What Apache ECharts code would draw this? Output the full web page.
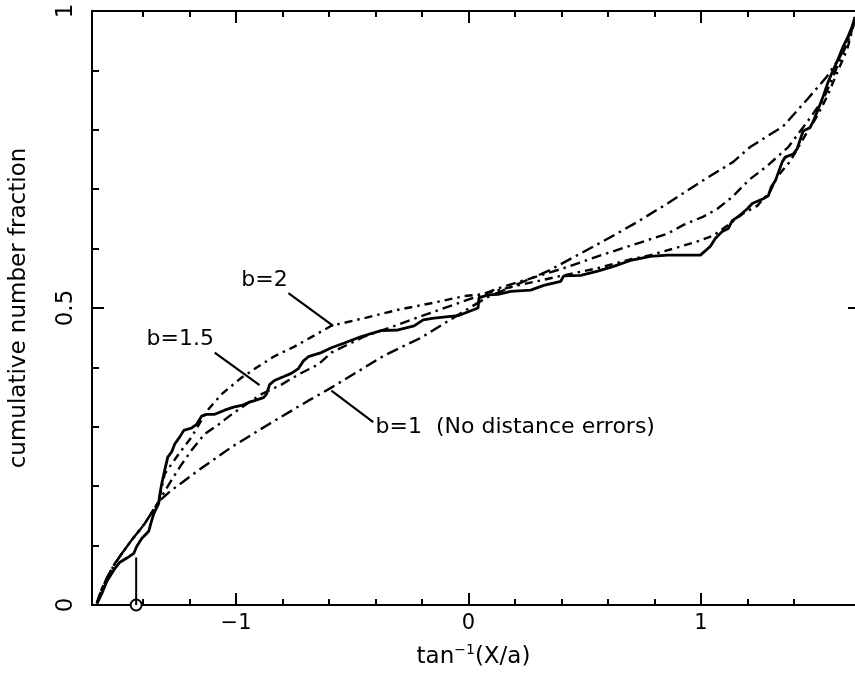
<!DOCTYPE html>
<html>
<head>
<meta charset="utf-8">
<script src="https://cdn.jsdelivr.net/npm/echarts@6/dist/echarts.min.js"></script>
<style>
  html, body { margin: 0; padding: 0; background: #fff; }
  #chart { width: 855px; height: 674px; }
</style>
</head>
<body>
<div id="chart"></div>
<script>
// observed cumulative number fraction (solid curve), [tan^-1(X/a), fraction]
const observed = [
  [-1.599, 0.002], [-1.577, 0.020], [-1.556, 0.040], [-1.526, 0.059], [-1.500, 0.072],
  [-1.470, 0.079], [-1.440, 0.087], [-1.427, 0.099], [-1.406, 0.112], [-1.376, 0.124],
  [-1.367, 0.137], [-1.354, 0.154], [-1.333, 0.171], [-1.328, 0.187], [-1.320, 0.204],
  [-1.307, 0.227], [-1.294, 0.249], [-1.277, 0.258], [-1.264, 0.271], [-1.242, 0.283],
  [-1.225, 0.294], [-1.191, 0.298], [-1.170, 0.304], [-1.148, 0.318], [-1.127, 0.321],
  [-1.092, 0.321], [-1.049, 0.328], [-1.011, 0.333], [-0.976, 0.336], [-0.946, 0.341],
  [-0.921, 0.344], [-0.882, 0.349], [-0.869, 0.355], [-0.856, 0.371], [-0.835, 0.378],
  [-0.792, 0.385], [-0.762, 0.390], [-0.732, 0.398], [-0.710, 0.411], [-0.689, 0.418],
  [-0.633, 0.425], [-0.590, 0.433], [-0.534, 0.441], [-0.461, 0.452], [-0.376, 0.462],
  [-0.303, 0.463], [-0.234, 0.470], [-0.195, 0.480], [-0.148, 0.483], [-0.045, 0.487],
  [0.041, 0.500], [0.045, 0.517], [0.084, 0.522], [0.127, 0.523], [0.182, 0.528],
  [0.268, 0.530], [0.324, 0.538], [0.397, 0.545], [0.410, 0.554], [0.483, 0.555],
  [0.556, 0.562], [0.624, 0.570], [0.697, 0.580], [0.783, 0.587], [0.856, 0.589],
  [0.998, 0.589], [1.041, 0.604], [1.062, 0.617], [1.092, 0.629], [1.118, 0.634],
  [1.135, 0.647], [1.161, 0.654], [1.200, 0.667], [1.221, 0.676], [1.268, 0.684],
  [1.290, 0.689], [1.303, 0.704], [1.320, 0.714], [1.350, 0.746], [1.363, 0.754],
  [1.397, 0.759], [1.414, 0.768], [1.440, 0.798], [1.470, 0.804], [1.483, 0.814],
  [1.504, 0.834], [1.526, 0.856], [1.547, 0.880], [1.564, 0.896], [1.586, 0.915],
  [1.612, 0.940], [1.633, 0.957], [1.650, 0.973], [1.663, 0.990]
];

// the three model curves share this part near the left edge
const modelStart = [
  [-1.599, 0.003], [-1.577, 0.028], [-1.547, 0.052], [-1.521, 0.070],
  [-1.491, 0.087], [-1.448, 0.110], [-1.393, 0.137], [-1.333, 0.174]
];

// b=1 (no distance errors)
const modelB1 = modelStart.concat([
  [-1.285, 0.191], [-1.161, 0.227], [-1.019, 0.266], [-0.861, 0.304], [-0.689, 0.344],
  [-0.590, 0.366], [-0.363, 0.420], [-0.204, 0.450], [-0.088, 0.478], [0.075, 0.517],
  [0.341, 0.562], [0.483, 0.592], [0.624, 0.622], [0.727, 0.645], [0.856, 0.676],
  [0.998, 0.712], [1.139, 0.746], [1.212, 0.771], [1.354, 0.806], [1.457, 0.851],
  [1.543, 0.890], [1.599, 0.923], [1.642, 0.963], [1.663, 0.988]
]);

// b=1.5
const modelB15 = modelStart.concat([
  [-1.277, 0.211], [-1.234, 0.237], [-1.191, 0.261], [-1.135, 0.288], [-1.075, 0.304],
  [-1.019, 0.321], [-0.964, 0.336], [-0.891, 0.355], [-0.805, 0.371], [-0.732, 0.388],
  [-0.646, 0.405], [-0.590, 0.425], [-0.448, 0.452], [-0.303, 0.472], [-0.191, 0.488],
  [-0.045, 0.508], [0.054, 0.522], [0.127, 0.533], [0.268, 0.550], [0.410, 0.567],
  [0.556, 0.587], [0.697, 0.605], [0.856, 0.625], [0.925, 0.640], [1.011, 0.654],
  [1.071, 0.667], [1.135, 0.687], [1.208, 0.716], [1.285, 0.739], [1.376, 0.771],
  [1.457, 0.813], [1.526, 0.851], [1.564, 0.885], [1.599, 0.918], [1.642, 0.957],
  [1.663, 0.988]
]);

// b=2
const modelB2 = modelStart.concat([
  [-1.307, 0.221], [-1.247, 0.254], [-1.191, 0.283], [-1.127, 0.326], [-1.062, 0.355],
  [-0.976, 0.383], [-0.891, 0.405], [-0.839, 0.418], [-0.749, 0.435], [-0.590, 0.470],
  [-0.448, 0.483], [-0.303, 0.497], [-0.161, 0.508], [-0.019, 0.520], [0.054, 0.523],
  [0.212, 0.538], [0.410, 0.555], [0.556, 0.567], [0.697, 0.582], [0.783, 0.589],
  [0.882, 0.600], [0.985, 0.612], [1.054, 0.622], [1.114, 0.639], [1.182, 0.659],
  [1.242, 0.672], [1.298, 0.696], [1.328, 0.721], [1.384, 0.747], [1.457, 0.796],
  [1.500, 0.823], [1.543, 0.856], [1.586, 0.896], [1.629, 0.935], [1.655, 0.973],
  [1.663, 0.988]
]);

const xMajorTicks = [-1, 0, 1];
const xMinorTicks = [-1.4, -1.2, -0.8, -0.6, -0.4, -0.2, 0.2, 0.4, 0.6, 0.8, 1.2, 1.4];
const yMajorTicks = [0, 0.5, 1];
const yMinorTicks = [0.1, 0.2, 0.3, 0.4, 0.6, 0.7, 0.8, 0.9];

// curve labels and their leader lines
const curveLabels = [
  { text: 'b=2', at: [-0.878, 0.547], align: 'center' },
  { text: 'b=1.5', at: [-1.240, 0.448], align: 'center' },
  { text: 'b=1  (No distance errors)', at: [-0.400, 0.299], align: 'left' }
];
const leaders = [
  [[-0.775, 0.525], [-0.582, 0.470]],
  [[-1.092, 0.425], [-0.899, 0.370]],
  [[-0.590, 0.361], [-0.410, 0.308]]
];
// marked object on the x axis
const marker = [[-1.43, 0], [-1.43, 0.08]];

const FONT = 'DejaVu Sans';
const BLACK = '#000';
const minus = v => (v < 0 ? '\u2212' + Math.abs(v) : String(v));

let chart = echarts.init(document.getElementById('chart'));

function xAxisCfg (pos, ticks, len, labels) {
  return {
    type: 'value', position: pos, min: -1.62, max: 1.663,
    axisLine: { show: true, onZero: false, lineStyle: { color: BLACK, width: 2 } },
    axisTick: { show: true, inside: true, length: len, customValues: ticks, lineStyle: { color: BLACK, width: 2 } },
    axisLabel: labels ? { show: true, customValues: ticks, formatter: minus, fontFamily: FONT, fontSize: 21, color: BLACK, margin: 8 } : { show: false },
    splitLine: { show: false }
  };
}
function yAxisCfg (pos, ticks, len, labels, showLine) {
  return {
    type: 'value', position: pos, min: 0, max: 1,
    axisLine: { show: showLine, onZero: false, lineStyle: { color: BLACK, width: 2 } },
    axisTick: { show: true, inside: true, length: len, customValues: ticks, lineStyle: { color: BLACK, width: 2 } },
    axisLabel: labels ? { show: true, customValues: ticks, rotate: 90, fontFamily: FONT, fontSize: 23, color: BLACK, margin: 14 } : { show: false },
    splitLine: { show: false }
  };
}

const xAxes = [
  xAxisCfg('bottom', xMajorTicks, 12, true),
  xAxisCfg('bottom', xMinorTicks, 6, false),
  xAxisCfg('top', xMajorTicks, 12, false),
  xAxisCfg('top', xMinorTicks, 6, false)
];
xAxes[0].name = '{t|tan}{s|\u22121}{t|(X/a)}';
xAxes[0].nameLocation = 'middle';
xAxes[0].nameGap = 38;
xAxes[0].nameTextStyle = {
  rich: {
    t: { fontFamily: FONT, fontSize: 23, color: BLACK, lineHeight: 26, verticalAlign: 'bottom' },
    s: { fontFamily: FONT, fontSize: 14, color: BLACK, lineHeight: 26, verticalAlign: 'top' }
  }
};

const yAxes = [
  yAxisCfg('left', yMajorTicks, 12, true, true),
  yAxisCfg('left', yMinorTicks, 7, false, true),
  yAxisCfg('right', [0.5], 7, false, false)
];
yAxes[0].name = 'cumulative number fraction';
yAxes[0].nameLocation = 'middle';
yAxes[0].nameRotate = 90;
yAxes[0].nameGap = 61;
yAxes[0].nameTextStyle = { fontFamily: FONT, fontSize: 23, color: BLACK };

function curve (data, width, type) {
  return {
    type: 'line', data: data, showSymbol: false, silent: true,
    lineStyle: { color: BLACK, width: width, type: type }
  };
}

const series = [
  curve(modelB1, 2.4, [12, 5, 2.5, 5]),
  curve(modelB15, 2.4, [10, 5, 2.5, 5]),
  curve(modelB2, 2.4, [8, 5, 2.5, 5]),
  curve(observed, 2.8, 'solid')
];
leaders.forEach(seg => series.push(curve(seg, 2.2, 'solid')));
series.push(curve(marker, 2, 'solid'));
series.push({
  type: 'scatter', data: [marker[0]], symbol: 'emptyCircle', symbolSize: 11, silent: true,
  itemStyle: { color: BLACK, borderColor: BLACK, borderWidth: 2, opacity: 1 }
});
series.push({
  type: 'scatter', symbolSize: 0, silent: true,
  itemStyle: { opacity: 1 },
  data: curveLabels.map(l => ({
    value: l.at, name: l.text,
    label: { show: true, position: 'inside', formatter: '{b}', align: l.align,
      fontFamily: FONT, fontSize: 22, color: BLACK }
  }))
});

chart.setOption({
  animation: false,
  backgroundColor: '#fff',
  grid: { left: 90, right: 0, top: 11, bottom: 65 },
  xAxis: xAxes,
  yAxis: yAxes,
  series: series
});
</script>
</body>
</html>
